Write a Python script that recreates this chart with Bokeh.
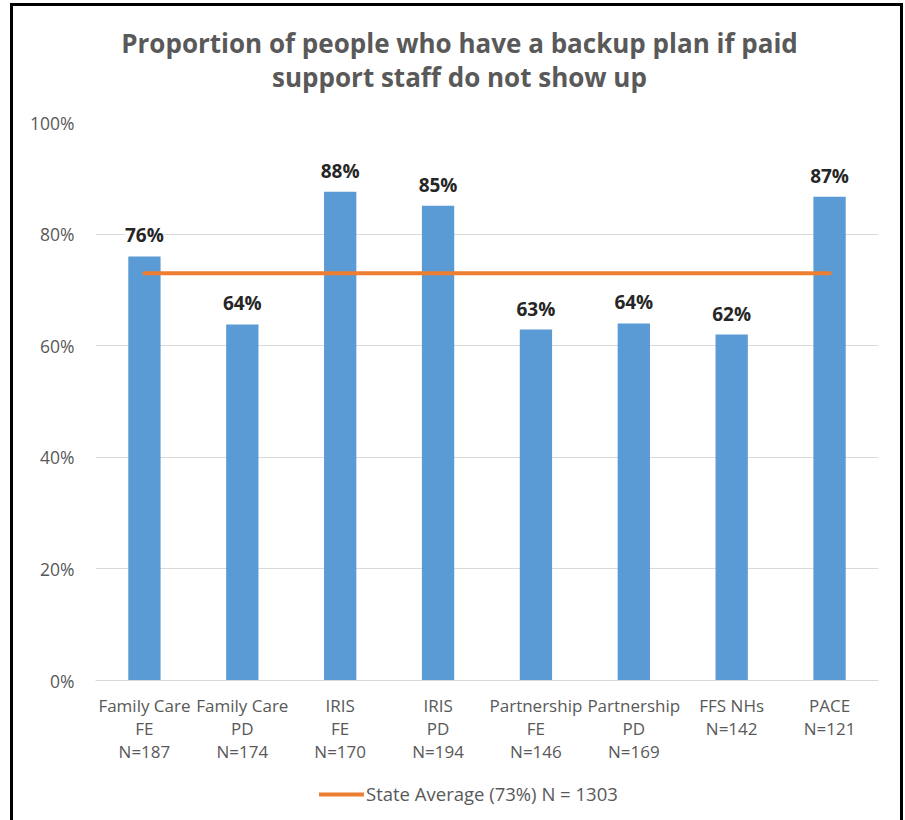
from bokeh.plotting import figure
from bokeh.layouts import column
from bokeh.models import (FactorRange, ColumnDataSource, FixedTicker, NumeralTickFormatter,
                          LabelSet, Legend, LegendItem)
from bokeh.core.properties import value
from bokeh.embed import file_html
from bokeh.resources import INLINE

categories = ["Family Care\nFE\nN=187", "Family Care\nPD\nN=174", "IRIS\nFE\nN=170",
              "IRIS\nPD\nN=194", "Partnership\nFE\nN=146", "Partnership\nPD\nN=169",
              "FFS NHs\nN=142", "PACE\nN=121"]
values = [0.76, 0.638, 0.876, 0.851, 0.629, 0.64, 0.62, 0.867]
value_labels = ["76%", "64%", "88%", "85%", "63%", "64%", "62%", "87%"]
state_average = 0.73
y_ticks = [0, 0.2, 0.4, 0.6, 0.8, 1.0]
title_text = "Proportion of people who have a backup plan if paid\nsupport staff do not show up"
legend_text = "State Average (73%) N = 1303"

FONT = "Open Sans"
GREY = "#595959"
ORANGE = "#ED7D31"
W = 887
FRAME_W = 783  # width of the aligned plotting frames (W - 82 - 22)

# ---- header (title) ----
head = figure(width=W, height=100, x_range=(0, FRAME_W), y_range=(0, 100),
              output_backend="svg", toolbar_location=None,
              x_axis_type=None, y_axis_type=None, min_border=0)
head.grid.visible = False
head.outline_line_color = None
head.text(x=[364], y=[46.5], text=[title_text], text_align="center", text_baseline="middle",
          text_font=value(FONT), text_font_style="bold", text_font_size="26px",
          text_color=GREY, text_line_height=0.94)

# ---- main chart ----
p = figure(x_range=FactorRange(*categories, range_padding=0), y_range=(0, 1.0),
           width=W, height=670, output_backend="svg", toolbar_location=None,
           min_border_left=82, min_border_right=22, min_border_top=16, min_border_bottom=96)
p.outline_line_color = None

src = ColumnDataSource(dict(x=categories, top=values, lab=value_labels))
p.vbar(x="x", top="top", width=0.33, source=src, fill_color="#5B9BD5", line_color=None)

p.line(x=[categories[0], categories[-1]], y=[state_average, state_average],
       line_color=ORANGE, line_width=4, line_cap="round")

labels = LabelSet(x="x", y="top", text="lab", source=src, text_align="center",
                  text_baseline="bottom", y_offset=8, text_font=value(FONT),
                  text_font_style="bold", text_font_size="19px", text_color="#262626",
                  background_fill_color="white")
p.add_layout(labels)

p.yaxis.ticker = FixedTicker(ticks=y_ticks)
p.yaxis.formatter = NumeralTickFormatter(format="0%")
p.yaxis.axis_line_color = None
p.yaxis.major_tick_line_color = None
p.yaxis.minor_tick_line_color = None
p.yaxis.major_label_text_font = FONT
p.yaxis.major_label_text_font_size = "17.5px"
p.yaxis.major_label_text_color = GREY
p.yaxis.major_label_standoff = 15

p.xaxis.axis_line_color = "#D9D9D9"
p.xaxis.major_tick_line_color = None
p.xaxis.minor_tick_line_color = None
p.xaxis.major_label_text_font = FONT
p.xaxis.major_label_text_font_size = "17px"
p.xaxis.major_label_text_color = GREY
p.xaxis.major_label_text_line_height = 1.0
p.xaxis.major_label_standoff = 7

p.xgrid.grid_line_color = None
p.ygrid.ticker = FixedTicker(ticks=y_ticks)
p.ygrid.grid_line_color = "#D9D9D9"
p.ygrid.grid_line_width = 1

# ---- legend strip ----
foot = figure(width=W, height=44, x_range=(0, FRAME_W), y_range=(0, 44),
              output_backend="svg", toolbar_location=None,
              x_axis_type=None, y_axis_type=None, min_border=0)
foot.grid.visible = False
foot.outline_line_color = None
nan = float("nan")
key = foot.line(x=[nan, nan], y=[nan, nan], line_color=ORANGE, line_width=4,
                line_cap="round")
legend = Legend(items=[LegendItem(label=legend_text, renderers=[key])],
                location=(224, 14), orientation="horizontal",
                label_text_font=FONT, label_text_font_size="18.5px", label_text_color=GREY,
                glyph_width=45, label_standoff=2, padding=0, margin=0,
                border_line_color=None, background_fill_alpha=0)
foot.add_layout(legend)

layout = column(head, p, foot, spacing=0, width=W + 6, height=814 + 3,
                styles={"margin-left": "10px", "margin-top": "3px",
                        "border-left": "3px solid black", "border-top": "3px solid black",
                        "border-right": "3px solid black"})

open("out.html", "w").write(file_html(layout, INLINE))
